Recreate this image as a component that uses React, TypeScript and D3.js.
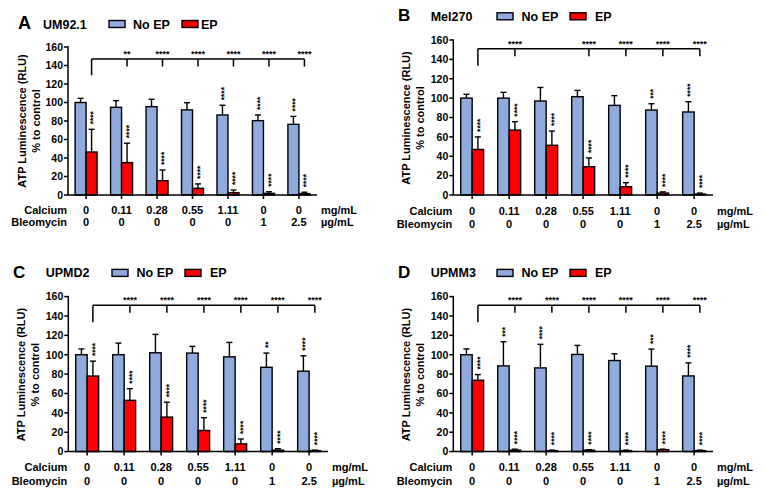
import React from "react";
import * as d3 from "d3";

const FONT = "'Liberation Sans', Arial, Helvetica, sans-serif";
const BLUE = "#8FAADC";
const RED = "#FF0000";

// ---- shared categories / ticks ----
const calcium = ["0", "0.11", "0.28", "0.55", "1.11", "0", "0"];
const bleomycin = ["0", "0", "0", "0", "0", "1", "2.5"];
const yTicks = [0, 20, 40, 60, 80, 100, 120, 140, 160];

// ---- Panel A: UM92.1 ----
const noEpA = [100, 94.8, 95.5, 92, 86.5, 80.4, 76.4];
const noEpTopA = [104.5, 102, 103.5, 99.8, 97, 86.5, 85];
const epA = [46.5, 35, 15.5, 7.2, 2.5, 1.8, 1.5];
const epTopA = [71, 56, 27, 12, 5.4, 3.5, 3];
const noEpStarsA = ["", "", "", "", "****", "****", "****"];
const epStarsA = ["****", "****", "****", "****", "****", "****", "****"];
const bracketIdxA = [1, 2, 3, 4, 5, 6];
const bracketStarsA = ["**", "****", "****", "****", "****", "****"];

// ---- Panel B: Mel270 ----
const noEpB = [100, 100, 97, 101.5, 92.5, 87.7, 85.7];
const noEpTopB = [104, 106, 111, 108, 102.5, 94.2, 96.3];
const epB = [47, 67, 51.3, 29.2, 8.6, 2, 1];
const epTopB = [60, 75.7, 66, 38.2, 12.7, 3.2, 2];
const noEpStarsB = ["", "", "", "", "", "***", "****"];
const epStarsB = ["****", "****", "****", "****", "****", "****", "****"];
const bracketIdxB = [1, 3, 4, 5, 6];
const bracketStarsB = ["****", "****", "****", "****", "****"];

// ---- Panel C: UPMD2 ----
const noEpC = [100, 100, 102, 101.7, 97.8, 87, 83];
const noEpTopC = [106, 112, 121, 108.6, 112.7, 101.7, 98.9];
const epC = [78, 52.9, 35.6, 21.8, 8, 1.5, 1];
const epTopC = [93.4, 65, 51, 35, 13, 3, 1.5];
const noEpStarsC = ["", "", "", "", "", "**", "****"];
const epStarsC = ["****", "****", "****", "****", "****", "****", "****"];
const bracketIdxC = [1, 2, 3, 4, 5, 6];
const bracketStarsC = ["****", "****", "****", "****", "****", "****"];

// ---- Panel D: UPMM3 ----
const noEpD = [100, 88.5, 86.4, 100.3, 94, 88.2, 78.1];
const noEpTopD = [106, 113.4, 110.7, 109.6, 101, 105.8, 91.6];
const epD = [73.6, 1.5, 1, 1.5, 1, 2, 1];
const epTopD = [79.5, 2.5, 1.5, 2, 1.5, 2.5, 1.5];
const noEpStarsD = ["", "***", "****", "", "", "***", "****"];
const epStarsD = ["****", "****", "****", "****", "****", "****", "****"];
const bracketIdxD = [1, 2, 3, 4, 5, 6];
const bracketStarsD = ["****", "****", "****", "****", "****", "****"];

type Layout = {
  xL: number; xR: number; yTop: number; y0: number;
  letterX: number; letterY: number; letterSize: number;
  nameX: number; nameY: number;
  lx1: number; ltx1: number; lx2: number; ltx2: number; ly: number;
  row1: number; row2: number;
  yl1: number; yl2: number; ylY: number;
  bracketV: number;
};

type PanelData = {
  letter: string; name: string;
  noEp: number[]; noEpTop: number[]; ep: number[]; epTop: number[];
  noEpStars: string[]; epStars: string[];
  bracketIdx: number[]; bracketStars: string[];
};

const baseB: Layout = {
  xL: 453.3, xR: 713, yTop: 40, y0: 195,
  letterX: 398, letterY: 15, letterSize: 17,
  nameX: 430.7, nameY: 16,
  lx1: 497, ltx1: 521.5, lx2: 570, ltx2: 595, ly: 16.3,
  row1: 210.7, row2: 224,
  yl1: 405.5, yl2: 419.5, ylY: 118,
  bracketV: 151,
};
const shift = (l: Layout, dx: number, dy: number, extra: Partial<Layout> = {}): Layout => ({
  ...l,
  xL: l.xL + dx, xR: l.xR + dx, yTop: l.yTop + dy, y0: l.y0 + dy,
  letterX: l.letterX + dx, letterY: l.letterY + dy,
  nameX: l.nameX + dx, nameY: l.nameY + dy,
  lx1: l.lx1 + dx, ltx1: l.ltx1 + dx, lx2: l.lx2 + dx, ltx2: l.ltx2 + dx, ly: l.ly + dy,
  row1: l.row1 + dy, row2: l.row2 + dy,
  yl1: l.yl1 + dx, yl2: l.yl2 + dx, ylY: l.ylY + dy,
  ...extra,
});

const layoutA: Layout = {
  xL: 68, xR: 317, yTop: 47, y0: 195,
  letterX: 18, letterY: 23, letterSize: 18,
  nameX: 43, nameY: 24.5,
  lx1: 109, ltx1: 133, lx2: 182, ltx2: 201, ly: 24,
  row1: 210, row2: 222,
  yl1: 21.5, yl2: 35.5, ylY: 121,
  bracketV: 147,
};
const layoutB = baseB;
const layoutC = shift(baseB, -385, 256.6);
const layoutD = shift(baseB, 0, 256.6);

const panels: { layout: Layout; data: PanelData }[] = [
  { layout: layoutA, data: { letter: "A", name: "UM92.1", noEp: noEpA, noEpTop: noEpTopA, ep: epA, epTop: epTopA, noEpStars: noEpStarsA, epStars: epStarsA, bracketIdx: bracketIdxA, bracketStars: bracketStarsA } },
  { layout: layoutB, data: { letter: "B", name: "Mel270", noEp: noEpB, noEpTop: noEpTopB, ep: epB, epTop: epTopB, noEpStars: noEpStarsB, epStars: epStarsB, bracketIdx: bracketIdxB, bracketStars: bracketStarsB } },
  { layout: layoutC, data: { letter: "C", name: "UPMD2", noEp: noEpC, noEpTop: noEpTopC, ep: epC, epTop: epTopC, noEpStars: noEpStarsC, epStars: epStarsC, bracketIdx: bracketIdxC, bracketStars: bracketStarsC } },
  { layout: layoutD, data: { letter: "D", name: "UPMM3", noEp: noEpD, noEpTop: noEpTopD, ep: epD, epTop: epTopD, noEpStars: noEpStarsD, epStars: epStarsD, bracketIdx: bracketIdxD, bracketStars: bracketStarsD } },
];

const SW = 1.4;

function VStars({ cx, yStart, text }: { cx: number; yStart: number; text: string }) {
  if (!text) return null;
  const fs = 8.5;
  return (
    <text
      transform={`translate(${cx + 0.57 * fs},${yStart}) rotate(-90)`}
      fontSize={fs}
      fontWeight="bold"
      fontFamily={FONT}
      fill="#000"
    >
      {text}
    </text>
  );
}

function Panel({ layout: L, data: D }: { layout: Layout; data: PanelData }) {
  const idx = d3.range(calcium.length);
  const x = d3.scaleBand<number>().domain(idx).range([L.xL, L.xR]).paddingInner(0.38).paddingOuter(0.2);
  const y = d3.scaleLinear().domain([0, 160]).range([L.y0, L.yTop]);
  const bw = x.bandwidth() / 2;
  const cap = 6;
  const redC = (i: number) => (x(i) as number) + bw * 1.5;
  const blueC = (i: number) => (x(i) as number) + bw * 0.5;
  const by = y(L.bracketV);
  const tickFs = 10.5;
  const labFs = 11;

  return (
    <g>
      {/* title */}
      <text x={L.letterX} y={L.letterY + 0.36 * L.letterSize} fontSize={L.letterSize} fontWeight="bold" fontFamily={FONT}>{D.letter}</text>
      <text x={L.nameX} y={L.nameY + 0.36 * 12.5} fontSize={12.5} fontWeight="bold" fontFamily={FONT}>{D.name}</text>
      <rect x={L.lx1} y={L.ly - 3.5} width={16} height={7} fill={BLUE} stroke="#000" strokeWidth={SW} />
      <text x={L.ltx1} y={L.ly + 0.36 * 12.5} fontSize={12.5} fontWeight="bold" fontFamily={FONT}>No EP</text>
      <rect x={L.lx2} y={L.ly - 3.5} width={16} height={7} fill={RED} stroke="#000" strokeWidth={SW} />
      <text x={L.ltx2} y={L.ly + 0.36 * 12.5} fontSize={12.5} fontWeight="bold" fontFamily={FONT}>EP</text>

      {/* y label */}
      <text transform={`translate(${L.yl1},${L.ylY}) rotate(-90)`} textAnchor="middle" dominantBaseline="central" fontSize={11} fontWeight="bold" fontFamily={FONT}>ATP Luminescence (RLU)</text>
      <text transform={`translate(${L.yl2},${L.ylY}) rotate(-90)`} textAnchor="middle" dominantBaseline="central" fontSize={11} fontWeight="bold" fontFamily={FONT}>% to control</text>

      {/* bars */}
      {idx.map((i) => {
        const x0 = x(i) as number;
        return (
          <g key={i}>
            {/* error bars */}
            <line x1={blueC(i)} x2={blueC(i)} y1={y(D.noEp[i])} y2={y(D.noEpTop[i])} stroke="#000" strokeWidth={SW} />
            <line x1={blueC(i) - cap / 2} x2={blueC(i) + cap / 2} y1={y(D.noEpTop[i])} y2={y(D.noEpTop[i])} stroke="#000" strokeWidth={SW} />
            <line x1={redC(i)} x2={redC(i)} y1={y(D.ep[i])} y2={y(D.epTop[i])} stroke="#000" strokeWidth={SW} />
            <line x1={redC(i) - cap / 2} x2={redC(i) + cap / 2} y1={y(D.epTop[i])} y2={y(D.epTop[i])} stroke="#000" strokeWidth={SW} />
            <rect x={x0} y={y(D.noEp[i])} width={bw} height={L.y0 - y(D.noEp[i])} fill={BLUE} stroke="#000" strokeWidth={SW} />
            <rect x={x0 + bw} y={y(D.ep[i])} width={bw} height={L.y0 - y(D.ep[i])} fill={RED} stroke="#000" strokeWidth={SW} />
            <VStars cx={blueC(i)} yStart={y(D.noEpTop[i]) - 5} text={D.noEpStars[i]} />
            <VStars cx={redC(i)} yStart={y(D.epTop[i]) - 5} text={D.epStars[i]} />
          </g>
        );
      })}

      {/* axes */}
      <line x1={L.xL} x2={L.xL} y1={L.yTop - 0.7} y2={L.y0} stroke="#000" strokeWidth={1.5} />
      <line x1={L.xL} x2={L.xR} y1={L.y0} y2={L.y0} stroke="#000" strokeWidth={1.5} />
      {yTicks.map((t) => (
        <g key={t}>
          <line x1={L.xL - 4} x2={L.xL} y1={y(t)} y2={y(t)} stroke="#000" strokeWidth={1.5} />
          <text x={L.xL - 5} y={y(t) + 0.36 * tickFs} textAnchor="end" fontSize={tickFs} fontWeight="bold" fontFamily={FONT}>{t}</text>
        </g>
      ))}
      {idx.map((i) => (
        <line key={i} x1={x(i)! + bw} x2={x(i)! + bw} y1={L.y0} y2={L.y0 + 4} stroke="#000" strokeWidth={1.5} />
      ))}

      {/* category rows */}
      <text x={L.xL - 1} y={L.row1 + 0.36 * labFs} textAnchor="end" fontSize={labFs} fontWeight="bold" fontFamily={FONT}>Calcium</text>
      <text x={L.xL - 1} y={L.row2 + 0.36 * labFs} textAnchor="end" fontSize={labFs} fontWeight="bold" fontFamily={FONT}>Bleomycin</text>
      {idx.map((i) => (
        <g key={i}>
          <text x={x(i)! + bw} y={L.row1 + 0.36 * labFs} textAnchor="middle" fontSize={labFs} fontWeight="bold" fontFamily={FONT}>{calcium[i]}</text>
          <text x={x(i)! + bw} y={L.row2 + 0.36 * labFs} textAnchor="middle" fontSize={labFs} fontWeight="bold" fontFamily={FONT}>{bleomycin[i]}</text>
        </g>
      ))}
      <text x={L.xR + 4} y={L.row1 + 0.36 * labFs} fontSize={labFs} fontWeight="bold" fontFamily={FONT}>mg/mL</text>
      <text x={L.xR + 4} y={L.row2 + 0.36 * labFs} fontSize={labFs} fontWeight="bold" fontFamily={FONT}>µg/mL</text>

      {/* significance bracket */}
      <line x1={redC(0)} x2={redC(D.bracketIdx[D.bracketIdx.length - 1])} y1={by} y2={by} stroke="#000" strokeWidth={1.5} />
      <line x1={redC(0)} x2={redC(0)} y1={by} y2={y(L.bracketV - 17.5)} stroke="#000" strokeWidth={1.5} />
      {D.bracketIdx.map((bi, k) => (
        <g key={bi}>
          <line x1={redC(bi)} x2={redC(bi)} y1={by} y2={by + 7.5} stroke="#000" strokeWidth={1.5} />
          <text x={redC(bi)} y={by - 2} textAnchor="middle" fontSize={9} fontWeight="bold" fontFamily={FONT}>{D.bracketStars[k]}</text>
        </g>
      ))}
    </g>
  );
}

export default function App() {
  return (
    <svg width={765} height={498} style={{ position: "absolute", left: 0, top: 0, background: "#fff" }}>
      <rect width={765} height={498} fill="#fff" />
      {panels.map((p, i) => (
        <Panel key={i} layout={p.layout} data={p.data} />
      ))}
    </svg>
  );
}
